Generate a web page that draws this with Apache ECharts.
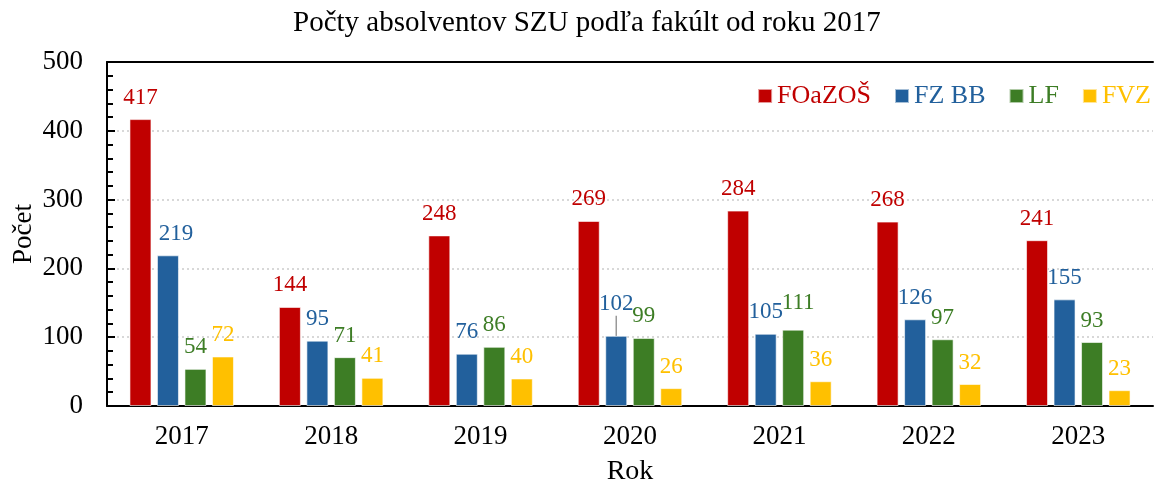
<!DOCTYPE html>
<html>
<head>
<meta charset="utf-8">
<script src="https://cdn.jsdelivr.net/npm/echarts@6/dist/echarts.min.js"></script>
<style>
  html, body { margin: 0; padding: 0; background: #fff; }
  #chart { width: 1155px; height: 481px; }
</style>
</head>
<body>
<div id="chart"></div>
<script>
// values
const years = ['2017', '2018', '2019', '2020', '2021', '2022', '2023']
const seriesNames = ['FOaZOŠ', 'FZ BB', 'LF', 'FVZ']
const colors = ['#C00000', '#22609C', '#3D7D25', '#FFC000']
const foazos = [417, 144, 248, 269, 284, 268, 241]
const fzbb = [219, 95, 76, 102, 105, 126, 155]
const lf = [54, 71, 86, 99, 111, 97, 93]
const fvz = [72, 41, 40, 26, 36, 32, 23]

const font = 'Liberation Serif, Times New Roman, serif'

// a few labels in the source are nudged off their default spot
const labelNudge = {
  '1-0': { dx: 8 },
  '1-3': { dy: -10 },
  '2-4': { dx: 5, dy: -5 }
}

function makeSeries(idx, values) {
  return {
    name: seriesNames[idx],
    type: 'bar',
    data: values.map((v, i) => {
      if (idx === 1 && i === 3) return { value: v, labelLine: { show: true } }
      return v
    }),
    barWidth: 22,
    barGap: '25%',
    itemStyle: { color: colors[idx], borderColor: 'rgba(255,255,255,0.6)', borderWidth: 1 },
    label: {
      show: true,
      position: 'top',
      distance: 10,
      color: colors[idx],
      fontFamily: font,
      fontSize: 23
    },
    labelLine: { show: false, lineStyle: { color: '#999', width: 1.5 } },
    labelLayout: function (p) {
      return labelNudge[p.seriesIndex + '-' + p.dataIndex] || {}
    }
  }
}

const chart = echarts.init(document.getElementById('chart'))
chart.setOption({
  backgroundColor: '#fff',
  animation: false,
  title: {
    text: 'Počty absolventov SZU podľa fakúlt od roku 2017',
    left: 288,
    top: 4,
    textStyle: { fontFamily: font, fontSize: 29, fontWeight: 'normal', color: '#000' }
  },
  legend: {
    right: -1,
    top: 78,
    itemWidth: 14,
    itemHeight: 14,
    itemGap: 23,
    icon: 'rect',
    data: seriesNames.map((n, i) => ({ name: n, textStyle: { color: colors[i] } })),
    textStyle: { fontFamily: font, fontSize: 26 }
  },
  grid: { left: 107, right: 2, top: 62, bottom: 75, outerBoundsMode: 'none' },
  xAxis: [{
    type: 'category',
    data: years,
    name: 'Rok',
    nameLocation: 'middle',
    nameGap: 52,
    nameMoveOverlap: false,
    nameTextStyle: { fontFamily: font, fontSize: 28, color: '#000' },
    axisLine: { lineStyle: { color: '#000', width: 2 } },
    axisTick: { inside: true, length: 7, lineStyle: { color: '#000', width: 2 } },
    axisLabel: { fontFamily: font, fontSize: 27, color: '#000', margin: 17 }
  }, {
    // short ticks at the category centres
    type: 'category',
    data: years,
    position: 'bottom',
    axisLine: { show: false },
    axisTick: { inside: true, alignWithLabel: true, length: 4, lineStyle: { color: '#000', width: 2 } },
    axisLabel: { show: false }
  }, {
    // top frame line
    type: 'category',
    data: years,
    position: 'top',
    axisLine: { show: true, lineStyle: { color: '#000', width: 2 } },
    axisTick: { show: false },
    axisLabel: { show: false }
  }],
  yAxis: {
    type: 'value',
    min: 0,
    max: 500,
    interval: 100,
    name: 'Počet',
    nameLocation: 'middle',
    nameGap: 70,
    nameMoveOverlap: false,
    nameTextStyle: { fontFamily: font, fontSize: 27, color: '#000' },
    axisLine: { show: true, lineStyle: { color: '#000', width: 2 } },
    axisTick: { show: true, inside: true, length: 8, lineStyle: { color: '#000', width: 2 } },
    minorTick: { show: true, splitNumber: 5, length: 6, lineStyle: { color: '#000', width: 2 } },
    axisLabel: { fontFamily: font, fontSize: 27, color: '#000', margin: 24 },
    splitLine: { show: true, lineStyle: { color: '#ccc', type: [2, 3], width: 1.5 } }
  },
  series: [
    makeSeries(0, foazos),
    makeSeries(1, fzbb),
    makeSeries(2, lf),
    makeSeries(3, fvz)
  ]
})
</script>
</body>
</html>
